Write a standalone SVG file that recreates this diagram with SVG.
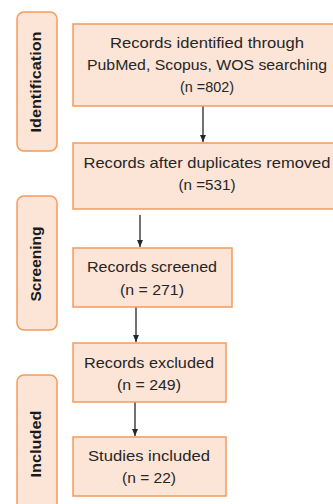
<svg xmlns="http://www.w3.org/2000/svg" width="333" height="504" viewBox="0 0 333 504">
<style>
.box{fill:#FCE4D6;stroke:#F59B5C;stroke-width:1.5}
.lane{fill:#FCE4D6;stroke:#F59B5C;stroke-width:1.5}
.t{font-family:"Liberation Sans",Arial,sans-serif;font-size:15px;fill:#262626;text-anchor:middle}
.lt{font-family:"Liberation Sans",Arial,sans-serif;font-size:15px;font-weight:bold;fill:#1a1a1a;text-anchor:middle}
.c{stroke:#262626;stroke-width:1.3;fill:none;marker-end:url(#ah)}
</style>
<defs>
<marker id="ah" markerWidth="8" markerHeight="8" refX="7" refY="4" orient="auto" markerUnits="userSpaceOnUse">
<path d="M0,1 L7,4 L0,7 Z" fill="#262626"/>
</marker>
</defs>
<rect width="333" height="504" fill="#ffffff"/>
<g id="lane-identification">
<rect class="lane" x="17" y="12" width="40" height="139" rx="7"/>
<text class="lt" transform="translate(40.5,82) rotate(-90)" textLength="101" lengthAdjust="spacingAndGlyphs">Identification</text>
</g>
<g id="lane-screening">
<rect class="lane" x="17" y="196" width="40" height="134" rx="7"/>
<text class="lt" transform="translate(40.5,264) rotate(-90)" textLength="75" lengthAdjust="spacingAndGlyphs">Screening</text>
</g>
<g id="lane-included">
<rect class="lane" x="17" y="375" width="40" height="140" rx="7"/>
<text class="lt" transform="translate(40.5,444) rotate(-90)" textLength="67" lengthAdjust="spacingAndGlyphs">Included</text>
</g>
<g id="connectors">
<line class="c" x1="203" y1="106" x2="203" y2="142"/>
<line class="c" x1="140" y1="215" x2="140" y2="247"/>
<line class="c" x1="136" y1="307" x2="136" y2="342"/>
<line class="c" x1="135" y1="402" x2="135" y2="436"/>
</g>
<g id="n1">
<rect class="box" x="73" y="24" width="270" height="82"/>
<text class="t" x="207" y="48" textLength="194" lengthAdjust="spacingAndGlyphs">Records identified through</text>
<text class="t" x="207" y="70" textLength="240" lengthAdjust="spacingAndGlyphs">PubMed, Scopus, WOS  searching</text>
<text class="t" x="207" y="92" textLength="54" lengthAdjust="spacingAndGlyphs">(n =802)</text>
</g>
<g id="n2">
<rect class="box" x="73" y="143" width="270" height="66"/>
<text class="t" x="207" y="168" textLength="247" lengthAdjust="spacingAndGlyphs">Records after duplicates removed</text>
<text class="t" x="207" y="190" textLength="57" lengthAdjust="spacingAndGlyphs">(n =531)</text>
</g>
<g id="n3">
<rect class="box" x="73" y="248" width="159" height="59"/>
<text class="t" x="152" y="272" textLength="130" lengthAdjust="spacingAndGlyphs">Records screened</text>
<text class="t" x="152" y="295" textLength="64" lengthAdjust="spacingAndGlyphs">(n = 271)</text>
</g>
<g id="n4">
<rect class="box" x="73" y="343" width="153" height="59"/>
<text class="t" x="149" y="368" textLength="130" lengthAdjust="spacingAndGlyphs">Records excluded</text>
<text class="t" x="149" y="390" textLength="64" lengthAdjust="spacingAndGlyphs">(n = 249)</text>
</g>
<g id="n5">
<rect class="box" x="73" y="437" width="153" height="59"/>
<text class="t" x="149" y="461" textLength="122" lengthAdjust="spacingAndGlyphs">Studies included</text>
<text class="t" x="149" y="483" textLength="54" lengthAdjust="spacingAndGlyphs">(n = 22)</text>
</g>
</svg>
